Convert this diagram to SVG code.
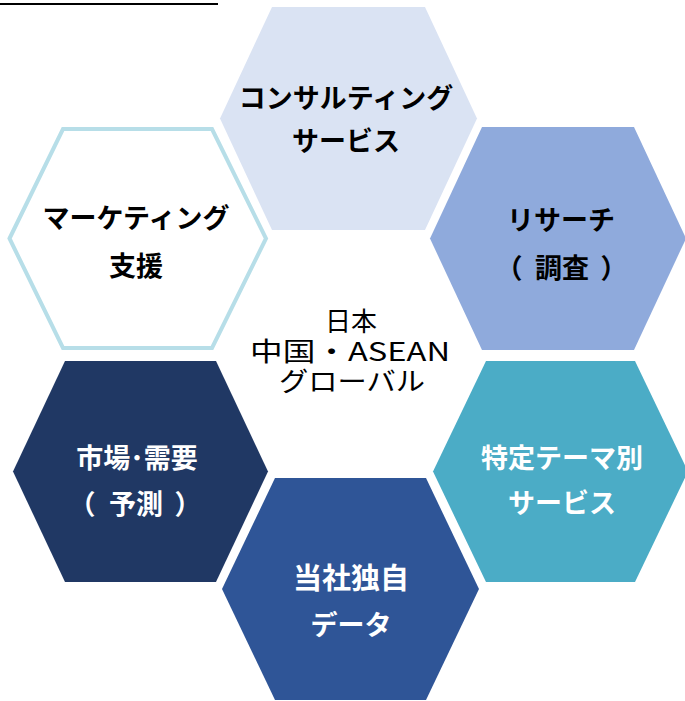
<svg xmlns="http://www.w3.org/2000/svg" width="685" height="701" viewBox="0 0 685 701">
<style>
.lbl{font-family:"Noto Sans CJK JP","Noto Sans",sans-serif;font-weight:700;font-size:27px;text-anchor:middle}
.dk{fill:#000}
.wt{fill:#fff}
.ctr{font-family:"Noto Sans CJK JP","Noto Sans",sans-serif;font-weight:400;font-size:26px;text-anchor:middle;fill:#000}
</style>
<rect width="685" height="701" fill="#fff"/>
<line x1="0" y1="4" x2="218" y2="4" stroke="#000" stroke-width="2"/>
<g id="consulting">
<polygon points="220,118.5 272,7 425,7 477,118.5 425,230 272,230" fill="#dae3f3"/>
<text class="lbl dk" x="346" y="108">コンサルティング</text>
<text class="lbl dk" x="346" y="151">サービス</text>
</g>
<g id="marketing">
<polygon points="9.5,238.5 63,129 212,129 266,238.5 212,348 63,348" fill="#fff" stroke="#b7dee8" stroke-width="4"/>
<text class="lbl dk" x="136" y="228">マーケティング</text>
<text class="lbl dk" x="136" y="276">支援</text>
</g>
<g id="research">
<polygon points="430,238.5 482,127 634,127 686,238.5 634,350 482,350" fill="#8faadc"/>
<text class="lbl dk" x="561" y="230">リサーチ</text>
<text class="lbl dk" y="278"><tspan x="509">（</tspan><tspan x="562">調査</tspan><tspan x="614">）</tspan></text>
</g>
<g id="market">
<polygon points="13,471.5 65,361 216,361 268,471.5 216,582 65,582" fill="#203864"/>
<text class="lbl wt" x="137" y="468">市場･需要</text>
<text class="lbl wt" y="514"><tspan x="82">（</tspan><tspan x="136">予測</tspan><tspan x="188">）</tspan></text>
</g>
<g id="theme">
<polygon points="433,471.5 486,361 635,361 688,471.5 635,582 486,582" fill="#4bacc6"/>
<text class="lbl wt" x="562" y="468">特定テーマ別</text>
<text class="lbl wt" x="562" y="513">サービス</text>
</g>
<g id="data">
<polygon points="222,589 275,478 426,478 479,589 426,700 275,700" fill="#2f5597"/>
<text class="lbl wt" x="351" y="589" style="font-size:29px">当社独自</text>
<text class="lbl wt" x="351" y="635">データ</text>
</g>
<g id="center">
<text class="ctr" x="351" y="331">日本</text>
<text class="ctr" x="350" y="361" textLength="200" lengthAdjust="spacingAndGlyphs">中国・ASEAN</text>
<text class="ctr" x="352" y="391" textLength="146" lengthAdjust="spacingAndGlyphs">グローバル</text>
</g>
<g id="connectors"/>
</svg>
